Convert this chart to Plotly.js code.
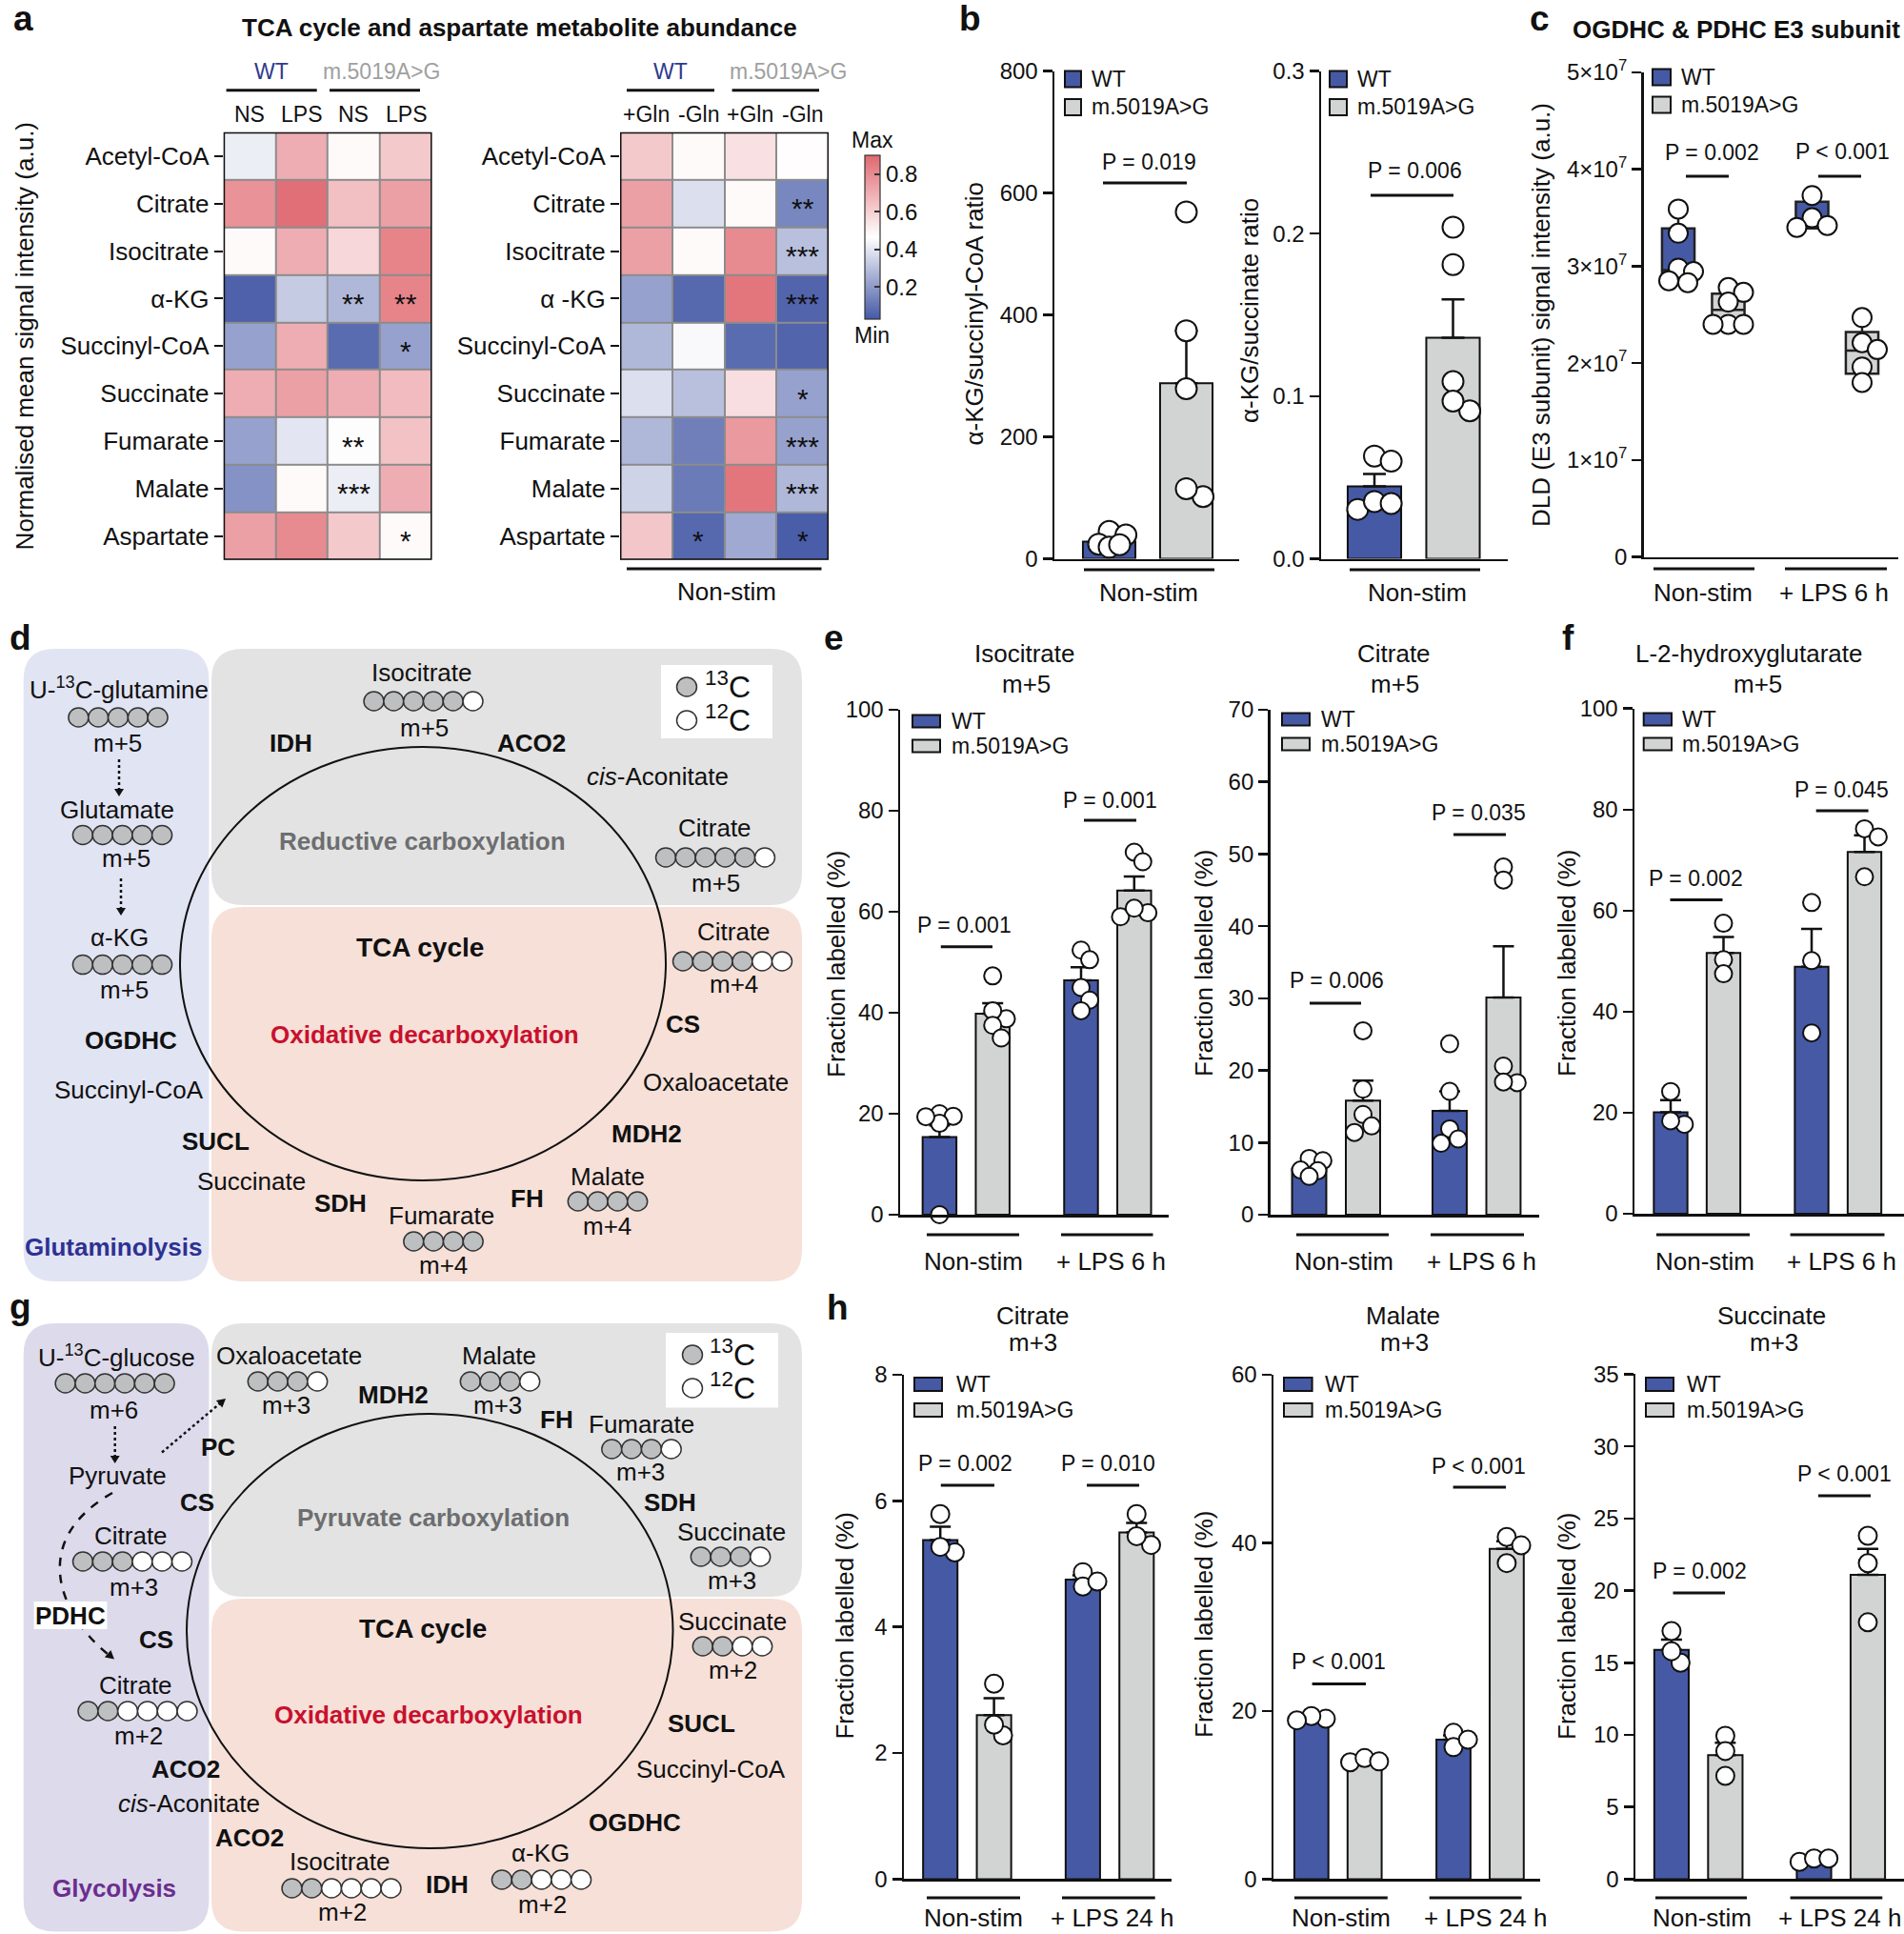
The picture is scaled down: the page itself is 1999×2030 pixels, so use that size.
<!DOCTYPE html>
<html><head><meta charset="utf-8">
<script src="https://cdn.plot.ly/plotly-3.0.1.min.js"></script>
<style>html,body{margin:0;padding:0;background:#fff;}#chart{width:1999px;height:2030px;}</style>
</head><body><div id="chart"></div>
<script>
// ======================= DATA =======================
const genotypes = ['WT', 'm.5019A>G'];
const heatRowsA = ['Acetyl-CoA','Citrate','Isocitrate','α-KG','Succinyl-CoA','Succinate','Fumarate','Malate','Aspartate'];
const heatRowsB = ['Acetyl-CoA','Citrate','Isocitrate','α -KG','Succinyl-CoA','Succinate','Fumarate','Malate','Aspartate'];
const heatColsA = ['NS','LPS','NS','LPS'];
const heatColsB = ['+Gln','-Gln','+Gln','-Gln'];
const heatValsA = [
  [0.42,0.70,0.48,0.62],
  [0.78,0.88,0.65,0.74],
  [0.48,0.70,0.58,0.82],
  [0.05,0.33,0.28,0.82],
  [0.22,0.70,0.08,0.22],
  [0.70,0.74,0.70,0.66],
  [0.22,0.40,0.46,0.64],
  [0.18,0.48,0.42,0.70],
  [0.74,0.80,0.62,0.48]];
const heatStarsA = [
  ['','','',''],['','','',''],['','','',''],
  ['','','**','**'],['','','','*'],['','','',''],
  ['','','**',''],['','','***',''],['','','','*']];
const heatValsB = [
  [0.62,0.48,0.55,0.47],
  [0.74,0.38,0.48,0.15],
  [0.74,0.48,0.80,0.30],
  [0.22,0.07,0.86,0.06],
  [0.28,0.45,0.08,0.06],
  [0.38,0.30,0.56,0.22],
  [0.28,0.13,0.76,0.22],
  [0.35,0.12,0.86,0.28],
  [0.63,0.07,0.24,0.04]];
const heatStarsB = [
  ['','','',''],['','','','**'],['','','','***'],
  ['','','','***'],['','','',''],['','','','*'],
  ['','','','***'],['','','','***'],['','*','','*']];
const heatScaleTicks = [0.2,0.4,0.6,0.8];

const groupsB = ['Non-stim'];
const groups6h = ['Non-stim','+ LPS 6 h'];
const groups24h = ['Non-stim','+ LPS 24 h'];

// b: alpha-KG / succinyl-CoA
const b1MeanWT=[28], b1MeanMut=[288], b1SemWT=[5], b1SemMut=[86];
const b1PtsWT=[[45,39,24,19,23]], b1PtsMut=[[569,374,279,102,115]];
const b1Ticks=[0,200,400,600,800];
const b1P=['P = 0.019'];
// b: alpha-KG / succinate
const b2MeanWT=[0.0445], b2MeanMut=[0.136], b2SemWT=[0.0077], b2SemMut=[0.0236];
const b2PtsWT=[[0.0632,0.060,0.0304,0.0352,0.034]], b2PtsMut=[[0.204,0.181,0.109,0.091,0.097]];
const b2Ticks=[0,0.1,0.2,0.3], b2TickText=['0.0','0.1','0.2','0.3'];
const b2P=['P = 0.006'];
// c: DLD box plots
const cLowWT=[2.83e7,3.39e7], cQ1WT=[2.845e7,3.39e7], cMedWT=[2.96e7,3.45e7], cQ3WT=[3.39e7,3.666e7], cHighWT=[3.59e7,3.73e7];
const cLowMut=[2.40e7,1.80e7], cQ1Mut=[2.40e7,1.89e7], cMedMut=[2.55e7,2.13e7], cQ3Mut=[2.716e7,2.32e7], cHighMut=[2.78e7,2.47e7];
const cPtsWT=[[3.59e7,3.34e7,2.98e7,2.945e7,2.83e7,2.85e7],[3.73e7,3.50e7,3.40e7,3.42e7]];
const cPtsMut=[[2.78e7,2.73e7,2.63e7,2.40e7,2.40e7,2.40e7],[2.47e7,2.21e7,2.14e7,1.96e7,1.80e7]];
const cTicks=[0,1e7,2e7,3e7,4e7,5e7];
const cTickText=['0','1×10<sup>7</sup>','2×10<sup>7</sup>','3×10<sup>7</sup>','4×10<sup>7</sup>','5×10<sup>7</sup>'];
const cP=['P = 0.002','P < 0.001'];
// e: Isocitrate m+5
const e1MeanWT=[15.4,46.4], e1MeanMut=[39.8,64.2], e1SemWT=[2.3,2.6], e1SemMut=[2.1,2.8];
const e1PtsWT=[[20,19.5,18.1,19.4,0],[52.4,50.5,45,42.5,40.4]];
const e1PtsMut=[[47.3,38.8,40.4,37.5,35],[71.8,69.9,59,59.8,60.7]];
const e1Ticks=[0,20,40,60,80,100];
const e1P=['P = 0.001','P = 0.001'];
// e: Citrate m+5
const e2MeanWT=[6.4,14.4], e2MeanMut=[15.8,30.1], e2SemWT=[0.5,2.7], e2SemMut=[2.8,7.1];
const e2PtsWT=[[7.8,7.5,6.1,6.2,5.3],[23.7,17.1,11.9,10.5,9.9]];
const e2PtsMut=[[25.5,17.4,13.9,12.3,11.4],[48.2,46.4,20.6,18.3,18.4]];
const e2Ticks=[0,10,20,30,40,50,60,70];
const e2P=['P = 0.006','P = 0.035'];
// f: L-2-hydroxyglutarate m+5
const fMeanWT=[20.1,48.9], fMeanMut=[51.6,71.6], fSemWT=[2.4,7.5], fSemMut=[3.2,3.3];
const fPtsWT=[[24.2,17.7,18.4],[61.6,50.1,35.8]];
const fPtsMut=[[57.5,50.3,47.5],[76.2,74.6,66.7]];
const fTicks=[0,20,40,60,80,100];
const fP=['P = 0.002','P = 0.045'];
// h: Citrate m+3
const h1MeanWT=[5.38,4.75], h1MeanMut=[2.6,5.5], h1SemWT=[0.21,0.07], h1SemMut=[0.27,0.15];
const h1PtsWT=[[5.79,5.18,5.27],[4.87,4.64,4.72]];
const h1PtsMut=[[3.1,2.28,2.45],[5.79,5.3,5.44]];
const h1Ticks=[0,2,4,6,8];
const h1P=['P = 0.002','P = 0.010'];
// h: Malate m+3
const h2MeanWT=[19.1,16.6], h2MeanMut=[14.1,39.3], h2SemWT=[0.2,0.5], h2SemMut=[0.2,0.9];
const h2PtsWT=[[19.08,19.4,18.9],[17.4,15.7,16.6]];
const h2PtsMut=[[13.9,14.4,14.0],[40.7,39.7,37.6]];
const h2Ticks=[0,20,40,60];
const h2P=['P < 0.001','P < 0.001'];
// h: Succinate m+3
const h3MeanWT=[15.9,1.3], h3MeanMut=[8.6,21.1], h3SemWT=[0.7,0.1], h3SemMut=[0.85,1.8];
const h3PtsWT=[[17.2,15.0,15.8],[1.2,1.43,1.43]];
const h3PtsMut=[[9.94,8.88,7.16],[23.8,21.9,17.8]];
const h3Ticks=[0,5,10,15,20,25,30,35];
const h3P=['P = 0.002','P < 0.001'];

// ======================= LAYOUT HELPERS =======================
const W=1999, H=2030;
const FONT='Liberation Sans, Arial, Helvetica, sans-serif';
const BLK='#111111';
const COL_WT='#4659a5', COL_MUT='#d2d3d3';
const P=x=>x/W, Q=y=>1-y/H;
const pp=(x,y)=>P(x).toFixed(6)+','+Q(y).toFixed(6);
const traces=[], shapes=[], ann=[];
const layout={width:W,height:H,margin:{l:0,r:0,t:0,b:0},autosize:false,showlegend:false,
  paper_bgcolor:'#ffffff',plot_bgcolor:'rgba(0,0,0,0)',barmode:'overlay',boxmode:'overlay',hovermode:false,
  font:{family:FONT,color:BLK,size:24}};

function txt(t,x,y,o){o=o||{};ann.push({text:o.bold?'<b>'+t+'</b>':t,x:P(x),y:Q(y),xref:'paper',yref:'paper',
  xanchor:o.xa||'center',yanchor:'middle',showarrow:false,textangle:o.ang||0,
  font:{family:FONT,size:o.size||26,color:o.color||BLK}});}
function ln(x0,y0,x1,y1,w,col,dash){shapes.push({type:'line',xref:'paper',yref:'paper',x0:P(x0),y0:Q(y0),x1:P(x1),y1:Q(y1),
  line:{color:col||BLK,width:w||3,dash:dash||'solid'},layer:'above'});}
function rect(x0,y0,x1,y1,fill,lc,lw){shapes.push({type:'rect',xref:'paper',yref:'paper',x0:P(x0),y0:Q(y1),x1:P(x1),y1:Q(y0),
  fillcolor:fill,line:{color:lc||'rgba(0,0,0,0)',width:lw||0},layer:'above'});}
function ell(x0,y0,x1,y1,fill,lc,lw){shapes.push({type:'circle',xref:'paper',yref:'paper',x0:P(x0),y0:Q(y1),x1:P(x1),y1:Q(y0),
  fillcolor:fill,line:{color:lc||'rgba(0,0,0,0)',width:lw||0},layer:'above'});}
function rrect(x0,y0,x1,y1,r,fill){
  const p='M'+pp(x0+r,y0)+' L'+pp(x1-r,y0)+' Q'+pp(x1,y0)+' '+pp(x1,y0+r)+' L'+pp(x1,y1-r)+' Q'+pp(x1,y1)+' '+pp(x1-r,y1)+
    ' L'+pp(x0+r,y1)+' Q'+pp(x0,y1)+' '+pp(x0,y1-r)+' L'+pp(x0,y0+r)+' Q'+pp(x0,y0)+' '+pp(x0+r,y0)+' Z';
  shapes.push({type:'path',xref:'paper',yref:'paper',path:p,fillcolor:fill,line:{width:0},layer:'above'});}
function head(tx,ty,dx,dy,len,hw){
  const m=Math.hypot(dx,dy), ux=dx/m, uy=dy/m, bx=tx-ux*len, by=ty-uy*len, nx=-uy, ny=ux;
  shapes.push({type:'path',xref:'paper',yref:'paper',path:'M'+pp(tx,ty)+' L'+pp(bx+nx*hw,by+ny*hw)+' L'+pp(bx-nx*hw,by-ny*hw)+' Z',
    fillcolor:BLK,line:{width:0},layer:'above'});}
function carbons(cx,cy,nGrey,n){
  for(let i=0;i<n;i++){const x=cx+(i-(n-1)/2)*20.8;
    ell(x-10.5,cy-10,x+10.5,cy+10,i<nGrey?'#bdbfc0':'#ffffff','#333333',1.5);}
}
function axKey(n,a){return n===1?a+'axis':a+'axis'+n;}
function axRef(n,a){return n===1?a:a+n;}

// deterministic compact dot spreading (so overlapping replicates stay visible within the bar)
function swarm(vals,pxv,d,unit){
  const idx=vals.map((v,i)=>i).sort((a,b)=>vals[b]-vals[a]);
  const placed=[], off=vals.map(()=>0);
  const cands=[0,0.5,-0.5,0.8,-0.8].map(k=>k*d);
  idx.forEach(i=>{
    const yo=vals[i]*pxv; let best=0, bestD=-1;
    for(const xo of cands){
      const md=placed.length?Math.min(...placed.map(p=>Math.hypot(p[0]-xo,p[1]-yo))):1e9;
      if(md>=0.75*d){best=xo;bestD=md;break;}
      if(md>bestD){bestD=md;best=xo;}
    }
    placed.push([best,yo]); off[i]=best/unit;
  });
  return off;
}

function setAxes(n,L,R,xmin,xmax,yTop,yBot,yr,tv,tt){
  layout[axKey(n,'x')]={domain:[P(L),P(R)],range:[xmin,xmax],anchor:axRef(n,'y'),showline:true,linecolor:BLK,linewidth:2.5,
    ticks:'',showticklabels:false,showgrid:false,zeroline:false,fixedrange:true};
  layout[axKey(n,'y')]={domain:[Q(yBot),Q(yTop)],range:yr,anchor:axRef(n,'x'),showline:true,linecolor:BLK,linewidth:2.5,
    ticks:'outside',ticklen:10,tickwidth:2.5,tickcolor:BLK,tickmode:'array',tickvals:tv,ticktext:tt,
    tickfont:{family:FONT,size:24,color:BLK},showgrid:false,zeroline:false,fixedrange:true};
}

function decorate(c,d){
  const lg=c.leg;
  rect(lg.x0,lg.yW-lg.h/2,lg.x1,lg.yW+lg.h/2,COL_WT,BLK,2);
  rect(lg.x0,lg.yM-lg.h/2,lg.x1,lg.yM+lg.h/2,COL_MUT,BLK,2);
  txt(genotypes[0],lg.tx,lg.yW,{xa:'left',size:23});
  txt(genotypes[1],lg.tx,lg.yM,{xa:'left',size:23});
  txt(c.title.t,c.title.x,c.title.y,{ang:-90,size:26});
  c.pv.forEach((v,i)=>{txt(d.pv[i],v[0],v[1],{size:23}); ln(v[2],v[4],v[3],v[4],3);});
  c.grp.forEach((g,i)=>{ln(g[0],g[2],g[1],g[2],3); txt(d.groups[i],g[3],g[4],{size:26});});
  if(c.head){txt(c.head[0],c.head[2],c.head[4],{size:26}); txt(c.head[1],c.head[3],c.head[5],{size:26});}
}

function barChart(c,d){
  const xmin=-(c.c0-c.L)/c.unit, xmax=(c.R-c.c0)/c.unit;
  setAxes(c.n,c.L,c.R,xmin,xmax,c.yTop,c.yBot,[0,c.ymax],d.ticks,d.tickText||d.ticks.map(String));
  const pxv=(c.yBot-c.yTop)/c.ymax, xa=axRef(c.n,'x'), ya=axRef(c.n,'y');
  [[d.meanWT,d.semWT,d.ptsWT,COL_WT],[d.meanMut,d.semMut,d.ptsMut,COL_MUT]].forEach((s,si)=>{
    const xs=d.groups.map((g,gi)=>gi*c.off+si);
    traces.push({type:'bar',x:xs,y:s[0],width:c.bw,xaxis:xa,yaxis:ya,cliponaxis:false,
      marker:{color:s[3],line:{color:BLK,width:2}},
      error_y:{type:'data',symmetric:false,array:s[1],arrayminus:s[1].map(()=>0),color:BLK,thickness:2.5,width:c.cap}});
    s[2].forEach((vals,gi)=>{
      const offs=swarm(vals,pxv,c.ms,c.unit);
      traces.push({type:'scatter',mode:'markers',x:vals.map((v,i)=>gi*c.off+si+offs[i]),y:vals,xaxis:xa,yaxis:ya,cliponaxis:false,
        marker:{size:c.ms,color:'#ffffff',line:{color:BLK,width:2}}});
    });
  });
  decorate(c,d);
}

// ======================= PANEL a: heatmaps =======================
const cscale=[[0,'#4559a6'],[0.5,'#ffffff'],[1,'#e06870']];
function heat(n,L,R,vals,stars,rows,cols,showScale){
  const xa=axRef(n,'x'), ya=axRef(n,'y');
  const hm={type:'heatmap',x:cols.map((c,i)=>i),y:rows.map((r,i)=>i),z:vals,colorscale:cscale,zmin:0.03,zmax:0.9,xgap:2,ygap:2,
    xaxis:xa,yaxis:ya,showscale:showScale,hoverinfo:'skip'};
  if(showScale){hm.colorbar={x:P(908),xanchor:'left',y:Q(249),yanchor:'middle',len:(335-163)/H,lenmode:'fraction',
    thickness:16,thicknessmode:'pixels',outlinewidth:1.2,outlinecolor:'#333',xpad:0,ypad:0,tickmode:'array',tickvals:heatScaleTicks,
    ticktext:heatScaleTicks.map(v=>v.toFixed(1)),ticks:'inside',ticklen:6,tickwidth:2,tickcolor:'#333',tickfont:{family:FONT,size:24,color:BLK}};}
  traces.push(hm);
  layout[axKey(n,'x')]={domain:[P(L),P(R)],range:[-0.5,3.5],anchor:ya,showticklabels:false,ticks:'',showgrid:false,zeroline:false,showline:false,fixedrange:true};
  layout[axKey(n,'y')]={domain:[Q(587.8),Q(138.8)],range:[8.5,-0.5],anchor:xa,tickmode:'array',tickvals:rows.map((r,i)=>i),ticktext:rows,
    ticks:'outside',ticklen:9,tickwidth:2,tickcolor:BLK,tickfont:{family:FONT,size:26,color:BLK},showgrid:false,zeroline:false,showline:false,fixedrange:true};
  shapes.push({type:'rect',xref:xa,yref:ya,x0:-0.5,x1:3.5,y0:-0.5,y1:8.5,fillcolor:'#8c8c8c',line:{width:0},layer:'below'});
  shapes.push({type:'rect',xref:xa,yref:ya,x0:-0.5,x1:3.5,y0:-0.5,y1:8.5,fillcolor:'rgba(0,0,0,0)',line:{color:BLK,width:3},layer:'above'});
  cols.forEach((c,i)=>ann.push({text:c,x:i,y:Q(120.4),xref:xa,yref:'paper',showarrow:false,xanchor:'center',yanchor:'middle',
    font:{family:FONT,size:23,color:BLK}}));
  stars.forEach((row,ri)=>row.forEach((s,ci)=>{ if(s){ ann.push({text:s,x:ci,y:ri,xref:xa,yref:ya,showarrow:false,
    xanchor:'center',yanchor:'middle',yshift:-5,font:{family:FONT,size:30,color:BLK}}); } }));
}
heat(1,234.7,453.5,heatValsA,heatStarsA,heatRowsA,heatColsA,true);
heat(2,651,870,heatValsB,heatStarsB,heatRowsB,heatColsB,false);
txt('TCA cycle and aspartate metabolite abundance',545.6,28.6,{bold:true,size:26});
txt('a',12,20,{bold:true,size:37,xa:'left'});
txt(genotypes[0],284.5,74.7,{size:23,color:'#2e3a8e'}); txt(genotypes[1],400.7,74.7,{size:23,color:'#a0a0a0'});
txt(genotypes[0],704,74.7,{size:23,color:'#2e3a8e'}); txt(genotypes[1],827,74.7,{size:23,color:'#a0a0a0'});
ln(237.6,94.7,332.7,94.7,3); ln(346,94.7,441,94.7,3); ln(658,94.7,750,94.7,3); ln(768.6,94.7,860,94.7,3);
ln(658,597,862.5,597,3); txt('Non-stim',763,620.5,{size:26});
txt('Normalised mean signal intensity (a.u.)',26.4,353,{ang:-90,size:26});
txt('Max',915.7,147,{size:23}); txt('Min',915.7,352,{size:23});

// ======================= PANEL b =======================
txt('b',1005,20,{bold:true,size:37,xa:'left'});
barChart({n:3,L:1107,R:1301,c0:1164.5,unit:81,off:0,yTop:74.6,yBot:586.5,ymax:800,ms:22,bw:0.68,cap:12,
  leg:{x0:1118,x1:1135,yW:83,yM:112.5,h:17,tx:1144},title:{t:'α-KG/succinyl-CoA ratio',x:1023,y:329.5},
  pv:[[1206,170,1158,1246,192]],grp:[[1138,1275,598,1206,622]]},
  {meanWT:b1MeanWT,meanMut:b1MeanMut,semWT:b1SemWT,semMut:b1SemMut,ptsWT:b1PtsWT,ptsMut:b1PtsMut,groups:groupsB,ticks:b1Ticks,pv:b1P});
barChart({n:4,L:1387,R:1583,c0:1443,unit:82.5,off:0,yTop:74.6,yBot:586.5,ymax:0.3,ms:22,bw:0.68,cap:12,
  leg:{x0:1396,x1:1414,yW:83,yM:112.5,h:17,tx:1423},title:{t:'α-KG/succinate ratio',x:1312,y:326},
  pv:[[1485,179,1439,1526,205]],grp:[[1417,1554,598,1488,622]]},
  {meanWT:b2MeanWT,meanMut:b2MeanMut,semWT:b2SemWT,semMut:b2SemMut,ptsWT:b2PtsWT,ptsMut:b2PtsMut,groups:groupsB,ticks:b2Ticks,tickText:b2TickText,pv:b2P});

// ======================= PANEL c =======================
(function(){
  const c={n:5,L:1725.6,R:1993,c0:1762,unit:52.5,off:2.676,yTop:76,yBot:584.5,ymax:5e7,ms:20,bw:0.65,
    leg:{x0:1735,x1:1754,yW:81,yM:110,h:17,tx:1763},title:{t:'DLD (E3 subunit) signal intensity (a.u.)',x:1618.6,y:330.5},
    pv:[[1797,160,1770,1815,185],[1934,159,1909,1954,185]],grp:[[1736,1842,597,1788,622],[1874,1981,597,1925,622]]};
  const xmin=-(c.c0-c.L)/c.unit, xmax=(c.R-c.c0)/c.unit;
  setAxes(5,c.L,c.R,xmin,xmax,c.yTop,c.yBot,[0,c.ymax],cTicks,cTickText);
  const pxv=(c.yBot-c.yTop)/c.ymax;
  [[cLowWT,cQ1WT,cMedWT,cQ3WT,cHighWT,cPtsWT,COL_WT],[cLowMut,cQ1Mut,cMedMut,cQ3Mut,cHighMut,cPtsMut,COL_MUT]].forEach((s,si)=>{
    const xs=groups6h.map((g,gi)=>gi*c.off+si);
    traces.push({type:'box',x:xs,lowerfence:s[0],q1:s[1],median:s[2],q3:s[3],upperfence:s[4],width:c.bw,
      fillcolor:s[6],line:{color:'#222',width:2.5},whiskerwidth:0,boxpoints:false,xaxis:'x5',yaxis:'y5',hoverinfo:'skip'});
    s[5].forEach((vals,gi)=>{
      const offs=swarm(vals,pxv,c.ms,c.unit);
      traces.push({type:'scatter',mode:'markers',x:vals.map((v,i)=>gi*c.off+si+offs[i]),y:vals,xaxis:'x5',yaxis:'y5',cliponaxis:false,
        marker:{size:c.ms,color:'#ffffff',line:{color:BLK,width:2}}});
    });
  });
  decorate(c,{pv:cP,groups:groups6h});
  txt('c',1604,20,{bold:true,size:37,xa:'left'});
  txt('OGDHC & PDHC E3 subunit',1649,31,{bold:true,size:26,xa:'left'});
})();

// ======================= PANEL e, f =======================
txt('e',863,670,{bold:true,size:37,xa:'left'});
txt('f',1638,670,{bold:true,size:37,xa:'left'});
barChart({n:6,L:945,R:1227,c0:986.4,unit:55.8,off:2.663,yTop:745,yBot:1275,ymax:100,ms:18,bw:0.636,cap:11,
  leg:{x0:958,x1:987,yW:757,yM:783,h:13,tx:996.6},title:{t:'Fraction labelled (%)',x:878,y:1012},
  head:['Isocitrate','m+5',1076,1077,685.7,718],
  pv:[[1012.7,971,987.8,1042,993.7],[1165,839.7,1138,1193,861]],grp:[[973,1070,1296,1022,1324],[1114,1210.5,1296,1166.6,1324]]},
  {meanWT:e1MeanWT,meanMut:e1MeanMut,semWT:e1SemWT,semMut:e1SemMut,ptsWT:e1PtsWT,ptsMut:e1PtsMut,groups:groups6h,ticks:e1Ticks,pv:e1P});
barChart({n:7,L:1333.6,R:1616,c0:1374.5,unit:56.5,off:2.61,yTop:745,yBot:1275,ymax:70,ms:18,bw:0.636,cap:11,
  leg:{x0:1346,x1:1375,yW:755,yM:781,h:13,tx:1384.5},title:{t:'Fraction labelled (%)',x:1264,y:1011},
  head:['Citrate','m+5',1463,1464,685.7,718],
  pv:[[1403,1029,1375,1429,1053],[1552,853,1526,1581,876]],grp:[[1361,1458,1296,1410.6,1324],[1502,1600,1296,1555,1324]]},
  {meanWT:e2MeanWT,meanMut:e2MeanMut,semWT:e2SemWT,semMut:e2SemMut,ptsWT:e2PtsWT,ptsMut:e2PtsMut,groups:groups6h,ticks:e2Ticks,pv:e2P});
barChart({n:8,L:1716,R:1999,c0:1754,unit:55.5,off:2.667,yTop:743.7,yBot:1274,ymax:100,ms:18,bw:0.636,cap:11,
  leg:{x0:1725.7,x1:1755,yW:755,yM:781,h:13,tx:1764},title:{t:'Fraction labelled (%)',x:1645,y:1011},
  head:['L-2-hydroxyglutarate','m+5',1835.6,1845,685.7,718],
  pv:[[1780.7,922,1753.5,1808.5,944.6],[1933,828.6,1906.7,1961.6,851]],grp:[[1739,1837,1296,1789.5,1324],[1879.6,1978.5,1296,1933,1324]]},
  {meanWT:fMeanWT,meanMut:fMeanMut,semWT:fSemWT,semMut:fSemMut,ptsWT:fPtsWT,ptsMut:fPtsMut,groups:groups6h,ticks:fTicks,pv:fP});

// ======================= PANEL h =======================
txt('h',866,1372,{bold:true,size:37,xa:'left'});
barChart({n:9,L:949,R:1229.6,c0:987.2,unit:56.4,off:2.654,yTop:1443,yBot:1972.4,ymax:8,ms:19,bw:0.64,cap:11,
  leg:{x0:960,x1:989,yW:1453,yM:1480,h:14,tx:1001.7},title:{t:'Fraction labelled (%)',x:886.6,y:1707},
  head:['Citrate','m+3',1084.5,1084.5,1381,1409.4],
  pv:[[1013,1535.6,987.8,1044,1559],[1163.6,1535.6,1141,1196,1559]],grp:[[973,1071,1992,1022,2013],[1115,1212.7,1992,1167,2013]]},
  {meanWT:h1MeanWT,meanMut:h1MeanMut,semWT:h1SemWT,semMut:h1SemMut,ptsWT:h1PtsWT,ptsMut:h1PtsMut,groups:groups24h,ticks:h1Ticks,pv:h1P});
barChart({n:10,L:1337,R:1617,c0:1376.8,unit:55.9,off:2.669,yTop:1443,yBot:1972.4,ymax:60,ms:19,bw:0.64,cap:11,
  leg:{x0:1348,x1:1377.6,yW:1453,yM:1480,h:14,tx:1389},title:{t:'Fraction labelled (%)',x:1264,y:1705},
  head:['Malate','m+3',1473,1474,1381,1409.4],
  pv:[[1405,1744,1377.6,1434,1767.6],[1552,1538.7,1525.6,1581,1561]],grp:[[1359,1456.8,1992,1408.4,2013],[1500.7,1597.5,1992,1559,2013]]},
  {meanWT:h2MeanWT,meanMut:h2MeanMut,semWT:h2SemWT,semMut:h2SemMut,ptsWT:h2PtsWT,ptsMut:h2PtsMut,groups:groups24h,ticks:h2Ticks,pv:h2P});
barChart({n:11,L:1717,R:1999,c0:1754.9,unit:56.5,off:2.648,yTop:1442.4,yBot:1972.4,ymax:35,ms:19,bw:0.64,cap:11,
  leg:{x0:1728,x1:1757,yW:1453,yM:1480,h:14,tx:1769},title:{t:'Fraction labelled (%)',x:1645,y:1707},
  head:['Succinate','m+3',1860,1862.7,1381,1409.4],
  pv:[[1784,1649,1756.5,1811,1672],[1936.7,1547,1909,1964,1570]],grp:[[1738,1834,1992,1786.5,2013],[1879.6,1976.3,1992,1931,2013]]},
  {meanWT:h3MeanWT,meanMut:h3MeanMut,semWT:h3SemWT,semMut:h3SemMut,ptsWT:h3PtsWT,ptsMut:h3PtsMut,groups:groups24h,ticks:h3Ticks,pv:h3P});

// ======================= PANEL d: glutamine diagram =======================
txt('d',8,669,{bold:true,size:37,xa:'left'});
rrect(24.7,681,219.4,1345,33,'#e1e4f3');
rrect(222,681,842,950,33,'#e3e3e3');
rrect(222,952,842,1345,33,'#f6e0d8');
ell(189,784,699,1239,'rgba(0,0,0,0)',BLK,2);
rect(694,698,811,775,'#ffffff');
ell(710.5,711,731.5,731,'#bdbfc0','#333',1.5); ell(710.5,746,731.5,766,'#ffffff','#333',1.5);
txt('<sup>13</sup>C',764,719,{size:32}); txt('<sup>12</sup>C',764,754,{size:32});
carbons(124,753,5,5); carbons(128.5,876.5,5,5); carbons(128.5,1012.6,5,5);
carbons(444.5,736,5,6); carbons(751,900,5,6); carbons(769,1009,4,6);
carbons(638,1261,4,4); carbons(465.5,1303,4,4);
ln(125,797,125,829,2.5,BLK,'dot'); head(125,836,0,1,8,5);
ln(127,922,127,954,2.5,BLK,'dot'); head(127,961,0,1,8,5);
[['U-<sup>13</sup>C-glutamine',125,722.5],['m+5',123,780.5],['Glutamate',123,850],['m+5',132,901],['α-KG',125,984.5],
 ['m+5',130.5,1038.5],['Succinyl-CoA',135.5,1144],['Succinate',264,1240],['Fumarate',463.5,1276],['m+4',465,1328],
 ['Malate',638,1234.5],['m+4',637,1287],['Oxaloacetate',751.5,1136],['Citrate',770.6,978],['m+4',770.6,1033],
 ['Citrate',750,869],['m+5',751.5,926.5],['<i>cis</i>-Aconitate',690,815],['Isocitrate',443,705.5],['m+5',445,763.6]
].forEach(t=>txt(t[0],t[1],t[2],{size:26}));
[['OGDHC',137,1092],['SUCL',226.5,1198],['SDH',357.6,1262.6],['FH',553,1258],['MDH2',678.5,1190],['CS',717,1075],
 ['ACO2',558,780.5],['IDH',305.5,780.5]].forEach(t=>txt(t[0],t[1],t[2],{size:26,bold:true}));
txt('Reductive carboxylation',443,883,{bold:true,size:26,color:'#6d6e70'});
txt('TCA cycle',440.5,994,{bold:true,size:28});
txt('Oxidative decarboxylation',446,1085.5,{bold:true,size:26,color:'#c8102e'});
txt('Glutaminolysis',119,1308.6,{bold:true,size:26,color:'#2e3192'});

// ======================= PANEL g: glucose diagram =======================
txt('g',8,1371,{bold:true,size:37,xa:'left'});
rrect(24.7,1389,219.4,2027.5,33,'#dddaeb');
rrect(222,1389,842,1676,33,'#e3e3e3');
rrect(222,1678,842,2027.5,33,'#f6e0d8');
ell(196,1484,706.5,1940,'rgba(0,0,0,0)',BLK,2);
rect(699,1399,817,1477.5,'#ffffff');
ell(716.5,1412,737.5,1432,'#bdbfc0','#333',1.5); ell(716.5,1447,737.5,1467,'#ffffff','#333',1.5);
txt('<sup>13</sup>C',769,1420,{size:32}); txt('<sup>12</sup>C',769,1455,{size:32});
carbons(120.6,1452,6,6); carbons(302,1450,3,4); carbons(525,1450,3,4); carbons(673.5,1521,3,4);
carbons(767,1634,3,4); carbons(139,1639,3,6); carbons(144.5,1796,2,6); carbons(358.5,1982,2,6);
carbons(568.5,1973,2,5); carbons(769,1728,2,4);
ln(120.7,1497,120.7,1529,2.5,BLK,'dot'); head(120.7,1536,0,1,8,5);
ln(170,1524.5,231,1473,2.5,BLK,'dot'); head(237,1468,66,-55.5,9,5);
shapes.push({type:'path',xref:'paper',yref:'paper',layer:'above',
  path:'M'+pp(118,1567)+' C'+pp(25,1620)+' '+pp(68,1700)+' '+pp(113,1736),line:{color:BLK,width:2.5,dash:'dash'}});
head(120,1741.5,44,37,9,5);
rect(35.7,1681,112.4,1710,'#ffffff');
[['U-<sup>13</sup>C-glucose',122,1423],['m+6',119,1480],['Pyruvate',123.4,1549],['Oxaloacetate',303,1423],['m+3',300.6,1474.5],
 ['Malate',524,1423],['m+3',522.7,1474.5],['Fumarate',673.5,1494.6],['m+3',672,1544.6],['Succinate',768,1608],['m+3',768,1659],
 ['Citrate',137,1612],['m+3',140,1665.5],['Citrate',142.6,1769],['m+2',145,1821.5],['<i>cis</i>-Aconitate',198.6,1893],
 ['Isocitrate',356.5,1954],['m+2',359,2007],['α-KG',567.7,1945],['m+2',569,1999],['Succinyl-CoA',746,1857],
 ['Succinate',769,1702],['m+2',769,1753]
].forEach(t=>txt(t[0],t[1],t[2],{size:26}));
[['PC',229,1519],['MDH2',412.5,1464],['FH',584,1490],['SDH',703,1576.6],['CS',207,1576.6],['PDHC',74,1696],['CS',163.5,1721],
 ['ACO2',194.7,1856.5],['ACO2',262,1929],['IDH',469,1977.5],['OGDHC',666,1913],['SUCL',736.6,1808.6]
].forEach(t=>txt(t[0],t[1],t[2],{size:26,bold:true}));
txt('Pyruvate carboxylation',455,1593,{bold:true,size:26,color:'#6d6e70'});
txt('TCA cycle',444,1709.5,{bold:true,size:28});
txt('Oxidative decarboxylation',450,1800,{bold:true,size:26,color:'#c8102e'});
txt('Glycolysis',119.6,1981.7,{bold:true,size:26,color:'#6b2d8f'});

layout.shapes=shapes; layout.annotations=ann;
Plotly.newPlot('chart',traces,layout,{staticPlot:true,displayModeBar:false});
</script></body></html>
